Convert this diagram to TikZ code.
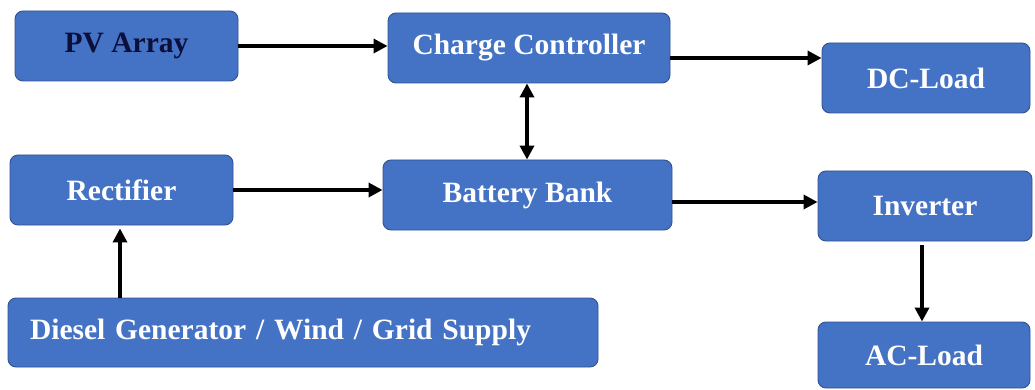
\documentclass[tikz,border=0pt]{standalone}
\usepackage{fontspec}
\setmainfont{Liberation Serif}
\usepackage{xcolor}
\usepackage{tikz}
\usetikzlibrary{positioning,calc,arrows.meta}

\begin{document}
\begin{tikzpicture}[
    x=1pt, y=-1pt,
    font=\fontsize{29.5}{32}\selectfont\bfseries,
    block/.style={draw=blockline, fill=blockfill, line width=0.9pt,
                  rounded corners=8pt, text=white, inner sep=0pt},
    flow/.style={-{Triangle[length=14pt,width=14pt]}, line width=3.4pt},
    both/.style={{Triangle[length=14pt,width=14pt]}-{Triangle[length=14pt,width=14pt]},
                 line width=3.4pt},
  ]
  \definecolor{blockfill}{HTML}{4472C4}
  \definecolor{blockline}{HTML}{2F528F}
  \definecolor{darktext}{HTML}{0B0F3A}

  \useasboundingbox (0,0) rectangle (1035,390);

  % ======================== FUENTES ========================
  \node[block, minimum width=223pt, minimum height=70pt, text=darktext]
    (pv) at (126.5, 46) {PV Array};
  \node[block, minimum width=223pt, minimum height=70pt]
    (rect) at (121.5, 190) {Rectifier};
  \node[block, minimum width=590pt, minimum height=69pt,
        text width=546pt, align=left, inner xsep=22pt]
    (gen) at (303, 332.5) {Diesel Generator / Wind / Grid Supply};

  % ===================== CONTROL / BANCO ====================
  \node[block, minimum width=282pt, minimum height=70pt]
    (cc) at (529, 48) {Charge Controller};
  \node[block, minimum width=289pt, minimum height=70pt]
    (batt) at (527.5, 195) {Battery Bank};

  % ========================= CARGAS =========================
  \node[block, minimum width=208pt, minimum height=70pt]
    (dcl) at (926, 78) {DC-Load};
  \node[block, minimum width=214pt, minimum height=70pt]
    (inv) at (925, 206) {Inverter};
  \node[block, minimum width=212pt, minimum height=66pt]
    (acl) at (924, 355) {AC-Load};

  % ========================= FLECHAS ========================
  \draw[flow] (pv.east) -- (cc.west |- pv.east);
  \draw[flow] ($(cc.east)+(0,10)$) -- (dcl.west |- {$(cc.east)+(0,10)$});
  \draw[both] (cc.south -| 527,0) -- (batt.north -| 527,0);
  \draw[flow] (rect.east) -- (batt.west |- rect.east);
  \draw[flow] ($(batt.east)+(0,7)$) -- (inv.west |- {$(batt.east)+(0,7)$});
  \draw[flow] ($(inv.south)+(-3,4)$) -- (acl.north -| {$(inv.south)+(-3,0)$});
  \draw[flow] (gen.north -| 120,0) -- ($(rect.south -| 120,0)+(0,3)$);
\end{tikzpicture}
\end{document}
